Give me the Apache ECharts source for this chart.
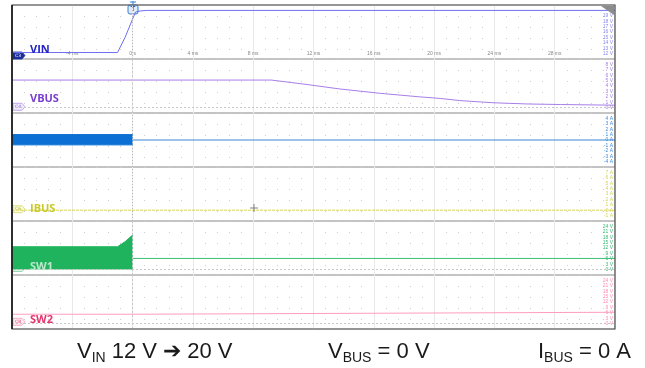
<!DOCTYPE html>
<html><head><meta charset="utf-8">
<script src="https://cdn.jsdelivr.net/npm/echarts@6/dist/echarts.min.js"></script>
<style>html,body{margin:0;padding:0;background:#fff}#c{width:645px;height:368px}</style>
</head><body><div id="c"></div>
<script>
// time axis (ms)
var timeMin = -8, timeMax = 32, timeStep = 4;
// VIN (V)
var vinT = [-8, -1.0, -0.5, 0, 0.2, 0.5, 1.0, 32];
var vinV = [12.2, 12.2, 15.0, 18.4, 19.7, 19.9, 20.0, 20.0];
var vinTicks = [12, 13, 14, 15, 16, 17, 18, 19];
// VBUS (V)
var vbusT = [-8, 9.2, 11.5, 13.75, 16.4, 19.0, 20.4, 21.7, 23.9, 26.2, 28.4, 31, 32];
var vbusV = [5.1, 5.1, 4.3, 3.45, 2.65, 2.0, 1.7, 1.3, 0.9, 0.67, 0.57, 0.48, 0.45];
var vbusTicks = [0, 1, 2, 3, 4, 5, 6, 7, 8];
// C5 current (A): switching envelope before 0 s, then flat
var c5BandT = [-8, 0];
var c5Low = [-0.9, -0.9];
var c5High = [1.0, 1.0];
var c5AfterT = [0, 32];
var c5AfterV = [0, 0];
var c5Ticks = [-4, -3, -2, -1, 0, 1, 2, 3, 4];
// IBUS (A)
var ibusT = [-8, 32];
var ibusV = [0, 0];
var ibusTicks = [-1, 0, 1, 2, 3, 4, 5, 6, 7];
// SW1 (V): switching envelope before 0 s, then flat
var sw1BandT = [-8, -1.0, -0.5, 0];
var sw1BandTop = [12.7, 12.7, 15.5, 19.2];
var sw1AfterT = [0, 32];
var sw1AfterV = [6.2, 6.2];
var swTicks = [0, 3, 6, 9, 12, 15, 18, 21, 24];
// SW2 (V)
var sw2T = [-8, 0, 0, 32];
var sw2V = [5.2, 5.2, 6.3, 6.3];

function zip(a, b) { return a.map(function (v, i) { return [v, b[i]]; }); }

var panels = [
  {min: 11, max: 21, interval: 1, ticks: vinTicks, unit: 'V', color: '#8a8af0'},
  {min: -1, max: 9, interval: 1, ticks: vbusTicks, unit: 'V', color: '#a77fe6'},
  {min: -5, max: 5, interval: 1, ticks: c5Ticks, unit: 'A', color: '#3d8ee0'},
  {min: -2, max: 8, interval: 1, ticks: ibusTicks, unit: 'A', color: '#d4d45a'},
  {min: -3, max: 27, interval: 3, ticks: swTicks, unit: 'V', color: '#3cba74'},
  {min: -3, max: 27, interval: 3, ticks: swTicks, unit: 'V', color: '#ff8fb5'}
];

var PT = 5, PH = 54, L = 12, R = 30;
var grids = [], xAxes = [], yAxes = [];
panels.forEach(function (p, i) {
  grids.push({left: L, right: R, top: PT + i * PH, height: PH, show: true, borderColor: '#b0b0b0', borderWidth: 1});
  xAxes.push({
    gridIndex: i, type: 'value', min: timeMin, max: timeMax, interval: timeStep,
    axisLine: {show: false}, axisTick: {show: false},
    axisLabel: {show: i === 0, inside: true, margin: 3, fontSize: 5, color: '#888',
      showMinLabel: false, showMaxLabel: false,
      formatter: function (v) { return v === 0 ? '0 s' : v + ' ms'; }},
    splitLine: {show: true, lineStyle: {color: '#e8e8e8', width: 1}},
    minorTick: {show: false, splitNumber: 5},
    minorSplitLine: {show: true, lineStyle: {color: '#cfcfcf', width: 1, type: [1, 10]}}
  });
  yAxes.push({
    gridIndex: i, type: 'value', position: 'right', min: p.min, max: p.max, interval: p.interval,
    axisLine: {show: false}, axisTick: {show: false}, splitLine: {show: false},
    axisLabel: {inside: true, margin: 2, fontSize: 5, color: p.color,
      formatter: function (v) { return p.ticks.indexOf(v) >= 0 ? v + ' ' + p.unit : ''; }}
  });
});

var zeroX = {silent: true, symbol: 'none', label: {show: false},
  lineStyle: {color: '#b8b8b8', type: [1, 2], width: 1}, data: [{xAxis: 0}]};
function zeroLines() {
  return {silent: true, symbol: 'none', label: {show: false},
    lineStyle: {color: '#c8c8c8', type: [2, 2], width: 1}, data: [{xAxis: 0}, {yAxis: 0}]};
}
function line(i, data, color, extra) {
  var s = {type: 'line', xAxisIndex: i, yAxisIndex: i, data: data, symbol: 'none',
    lineStyle: {color: color, width: 1}, itemStyle: {color: color}, animation: false, z: 3};
  for (var k in extra) s[k] = extra[k];
  return s;
}

var series = [
  line(0, zip(vinT, vinV), '#6f6ff2', {markLine: zeroX}),
  line(1, zip(vbusT, vbusV), '#a87ee8', {markLine: zeroLines()}),
  line(2, zip(c5BandT, c5Low), '#0b6fd3', {areaStyle: {color: '#0b6fd3', opacity: 1, origin: 0}, markLine: zeroX}),
  line(2, zip(c5BandT, c5High), '#0b6fd3', {areaStyle: {color: '#0b6fd3', opacity: 1, origin: 0}}),
  line(2, zip(c5AfterT, c5AfterV), '#3b86d6'),
  line(3, zip(ibusT, ibusV), '#d9d850', {lineStyle: {color: '#d9d850', width: 1, type: [3, 1]}, markLine: zeroX}),
  line(4, zip(sw1BandT, sw1BandTop), '#1fb35e', {areaStyle: {color: '#1fb35e', opacity: 1, origin: 0}, markLine: zeroLines()}),
  line(4, zip(sw1AfterT, sw1AfterV), '#3cbf75'),
  line(5, zip(sw2T, sw2V), '#ff9cc0', {markLine: zeroLines()})
];

function tag(x, y, fill, stroke, txt, txtColor) {
  return {type: 'group', x: x, y: y, z: 50, children: [
    {type: 'polygon', shape: {points: [[0, -3.5], [9, -3.5], [12, 0], [9, 3.5], [0, 3.5]]},
      style: {fill: fill, stroke: stroke, lineWidth: 0.8}},
    {type: 'text', style: {x: 5, y: 0, text: txt, fill: txtColor, fontSize: 4.5, fontFamily: 'DejaVu Sans',
      align: 'center', verticalAlign: 'middle'}}
  ]};
}
function chLabel(x, y, txt, color) {
  return {type: 'text', z: 50, style: {x: x, y: y, text: txt, fill: color, fontSize: 11, fontWeight: 'bold',
    fontFamily: 'Open Sans', verticalAlign: 'middle'}};
}
function caption(x, y, a, sub, rest) {
  return {type: 'text', z: 50, style: {x: x, y: y, verticalAlign: 'middle',
    text: '{a|' + a + '}{s|' + sub + '}{a|' + rest + '}',
    rich: {
      a: {fontSize: 22, lineHeight: 27, fontFamily: 'Liberation Sans', fill: '#1a1a1a', verticalAlign: 'middle'},
      s: {fontSize: 14, lineHeight: 14, padding: [13, 0, 0, 0], fontFamily: 'Liberation Sans', fill: '#1a1a1a'}
    }}};
}

var graphics = [
  {type: 'rect', z: 40, shape: {x: L, y: PT, width: 645 - L - R, height: PH * 6}, style: {fill: 'none', stroke: '#555', lineWidth: 1.2}},
  {type: 'line', z: 41, shape: {x1: L, y1: PT, x2: L, y2: PT + PH * 6}, style: {stroke: '#111', lineWidth: 1.5}},
  {type: 'group', x: 133, y: 5, z: 60, children: [
    {type: 'line', shape: {x1: 0, y1: -4, x2: 0, y2: 0}, style: {stroke: '#3a7fd5', lineWidth: 1}},
    {type: 'line', shape: {x1: -3, y1: -3, x2: 3, y2: -3}, style: {stroke: '#3a7fd5', lineWidth: 1}},
    {type: 'rect', shape: {x: -5, y: 0, width: 10, height: 9, r: 2}, style: {fill: '#dfeafc', stroke: '#3a7fd5', lineWidth: 1}},
    {type: 'text', style: {x: 0, y: 4.5, text: 'T', fill: '#2a64b8', fontSize: 7, fontWeight: 'bold', fontFamily: 'DejaVu Sans', align: 'center', verticalAlign: 'middle'}}
  ]},
  {type: 'polygon', z: 60, shape: {points: [[601, 6], [614, 6], [614, 15]]}, style: {fill: '#8c8c8c'}},
  {type: 'line', z: 60, shape: {x1: 250, y1: 208, x2: 258, y2: 208}, style: {stroke: '#666', lineWidth: 0.8}},
  {type: 'line', z: 60, shape: {x1: 254, y1: 204, x2: 254, y2: 212}, style: {stroke: '#666', lineWidth: 0.8}},
  tag(13, 55.5, '#1b2f9c', '#1b2f9c', 'C3', '#ffffff'),
  tag(13, 106.8, '#f1e9ff', '#b697ea', 'C4', '#8a63d2'),
  tag(13, 139.3, '#1670d0', '#1670d0', 'C5', '#ffffff'),
  tag(13, 209.2, '#fbfbdc', '#d8d870', 'C6', '#a8a830'),
  tag(13, 268, '#e3f6ea', '#7fcf9f', 'C7', '#3aa866'),
  tag(13, 321.8, '#ffe9f1', '#f59ab9', 'C8', '#e0467c'),
  chLabel(30, 49.5, 'VIN', '#2525c4'),
  chLabel(30, 99, 'VBUS', '#7a3fd0'),
  chLabel(30, 208.8, 'IBUS', '#c9c92a'),
  chLabel(30, 266.5, 'SW1', '#b9e8cb'),
  chLabel(30, 320, 'SW2', '#e8336c'),
  caption(77, 352, 'V', 'IN', ' 12 V \u2794 20 V'),
  caption(328, 352, 'V', 'BUS', ' = 0 V'),
  caption(538, 352, 'I', 'BUS', ' = 0 A')
];

var chart = echarts.init(document.getElementById('c'), null, {renderer: 'canvas'});
chart.setOption({
  animation: false,
  backgroundColor: '#ffffff',
  grid: grids, xAxis: xAxes, yAxis: yAxes, series: series, graphic: graphics
});
</script></body></html>
